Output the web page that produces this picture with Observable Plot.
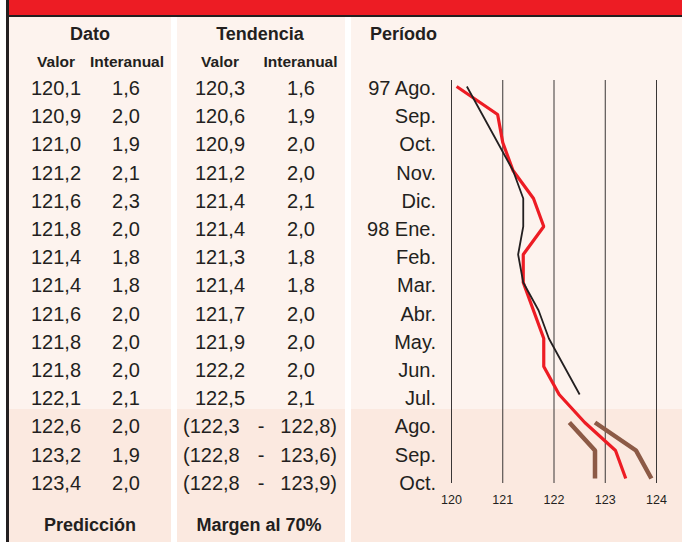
<!DOCTYPE html>
<html>
<head>
<meta charset="utf-8">
<script src="https://cdn.jsdelivr.net/npm/d3@7"></script>
<script src="https://cdn.jsdelivr.net/npm/@observablehq/plot@0.6"></script>
<style>
  html, body { margin: 0; padding: 0; background: #ffffff; }
  #root { position: relative; width: 682px; height: 542px; overflow: hidden; background: #ffffff;
          font-family: "Liberation Sans", Arial, Helvetica, sans-serif; color: #231f20; }
  .abs { position: absolute; white-space: nowrap; }
  .panel { position: absolute; top: 17px; height: 525px;
           background: linear-gradient(to bottom, #fdf3ee 0px, #fdf3ee 392px, #fbe9e0 392px, #fbe9e0 525px); }
  #chart { position: absolute; left: 0; top: 0; }
</style>
</head>
<body>
<div id="root"></div>
<script>
// ---------- data ----------
const periods = ["97 Ago.", "Sep.", "Oct.", "Nov.", "Dic.", "98 Ene.", "Feb.", "Mar.", "Abr.", "May.", "Jun.", "Jul.", "Ago.", "Sep.", "Oct."];
const datoValor = [120.1, 120.9, 121.0, 121.2, 121.6, 121.8, 121.4, 121.4, 121.6, 121.8, 121.8, 122.1, 122.6, 123.2, 123.4];
const datoInteranual = [1.6, 2.0, 1.9, 2.1, 2.3, 2.0, 1.8, 1.8, 2.0, 2.0, 2.0, 2.1, 2.0, 1.9, 2.0];
const tendenciaValor = [120.3, 120.6, 120.9, 121.2, 121.4, 121.4, 121.3, 121.4, 121.7, 121.9, 122.2, 122.5];
const tendenciaInteranual = [1.6, 1.9, 2.0, 2.0, 2.1, 2.0, 1.8, 1.8, 2.0, 2.0, 2.0, 2.1];
const margenBajo = [122.3, 122.8, 122.8];
const margenAlto = [122.8, 123.6, 123.9];
const xTicks = [120, 121, 122, 123, 124];
const headers = ["Dato", "Tendencia", "Período"];
const subHeaders = ["Valor", "Interanual", "Valor", "Interanual"];
const footers = ["Predicción", "Margen al 70%"];

const fmt = v => v.toFixed(1).replace(".", ",");
const root = document.getElementById("root");

function box(left, top, width, height, bg) {
  const d = document.createElement("div");
  d.className = "abs";
  Object.assign(d.style, {left: left + "px", top: top + "px", width: width + "px", height: height + "px", background: bg});
  root.appendChild(d);
}
function panel(left, width) {
  const d = document.createElement("div");
  d.className = "panel";
  d.style.left = left + "px";
  d.style.width = width + "px";
  root.appendChild(d);
}
// text placed by baseline; align: "center" | "left" | "right"
function txt(s, x, baseline, size, align, bold) {
  const d = document.createElement("div");
  d.className = "abs";
  d.textContent = s;
  d.style.fontSize = size + "px";
  d.style.lineHeight = size + "px";
  d.style.fontWeight = bold ? "bold" : "normal";
  d.style.top = (baseline - 0.8465 * size) + "px";
  if (align === "center") { d.style.left = (x - 200) + "px"; d.style.width = "400px"; d.style.textAlign = "center"; }
  else if (align === "right") { d.style.left = (x - 400) + "px"; d.style.width = "400px"; d.style.textAlign = "right"; }
  else { d.style.left = x + "px"; }
  root.appendChild(d);
}

// ---------- frame ----------
panel(9, 162);
panel(177, 168);
panel(351, 331);
box(9, 0, 673, 15, "#ed1c24");
box(6, 14.5, 676, 2.5, "#231f20");
box(6, 0, 3, 542, "#231f20");

// ---------- table text ----------
txt(headers[0], 90, 40, 18, "center", true);
txt(headers[1], 260, 40, 18, "center", true);
txt(headers[2], 370, 40, 18, "left", true);
const subX = [56, 127, 220, 300.5];
subHeaders.forEach((s, i) => txt(s, subX[i], 67.5, 15.5, "center", true));

const rowBase = i => 95 + 28.2 * i;
periods.forEach((p, i) => {
  const b = rowBase(i);
  txt(fmt(datoValor[i]), 56, b, 20, "center", false);
  txt(fmt(datoInteranual[i]), 126, b, 20, "center", false);
  txt(p, 436, b, 20, "right", false);
  if (i < tendenciaValor.length) {
    txt(fmt(tendenciaValor[i]), 220, b, 20, "center", false);
    txt(fmt(tendenciaInteranual[i]), 301, b, 20, "center", false);
  } else {
    const k = i - tendenciaValor.length;
    txt("(" + fmt(margenBajo[k]), 183, b, 20, "left", false);
    txt("-", 261, b, 20, "center", false);
    txt(fmt(margenAlto[k]) + ")", 337, b, 20, "right", false);
  }
});
txt(footers[0], 90, 531, 18, "center", true);
txt(footers[1], 259, 531, 18, "center", true);

// ---------- chart ----------
const datoRows = datoValor.map((v, i) => ({i, v}));
const tendRows = tendenciaValor.map((v, i) => ({i, v}));
const offset = tendenciaValor.length;
const bajoRows = margenBajo.map((v, k) => ({i: k + offset, v}));
const altoRows = margenAlto.map((v, k) => ({i: k + offset, v}));

const chart = Plot.plot({
  width: 682,
  height: 542,
  marginLeft: 451,
  marginRight: 26,
  marginTop: 80,
  marginBottom: 59,
  style: {background: "transparent", color: "#231f20", fontFamily: "'Liberation Sans', Arial, sans-serif", overflow: "visible"},
  x: {domain: [120, 124]},
  y: {type: "point", domain: d3.range(periods.length), padding: 0, axis: null},
  marks: [
    Plot.ruleX(xTicks, {stroke: "#3a3636", strokeWidth: 1}),
    Plot.axisX(xTicks, {anchor: "bottom", tickSize: 0, tickPadding: 12, fontSize: 12.5, tickFormat: d => String(d), label: null}),
    Plot.line(bajoRows, {x: "v", y: "i", stroke: "#8c5a46", strokeWidth: 4.5, strokeLinecap: "butt", strokeLinejoin: "miter"}),
    Plot.line(altoRows, {x: "v", y: "i", stroke: "#8c5a46", strokeWidth: 4.5, strokeLinecap: "butt", strokeLinejoin: "miter"}),
    Plot.line(datoRows, {x: "v", y: "i", stroke: "#ed1c24", strokeWidth: 3.2, strokeLinecap: "butt", strokeLinejoin: "miter"}),
    Plot.line(tendRows, {x: "v", y: "i", stroke: "#231f20", strokeWidth: 1.8, strokeLinecap: "butt", strokeLinejoin: "miter"})
  ]
});
chart.id = "chart";
root.appendChild(chart);
</script>
</body>
</html>
